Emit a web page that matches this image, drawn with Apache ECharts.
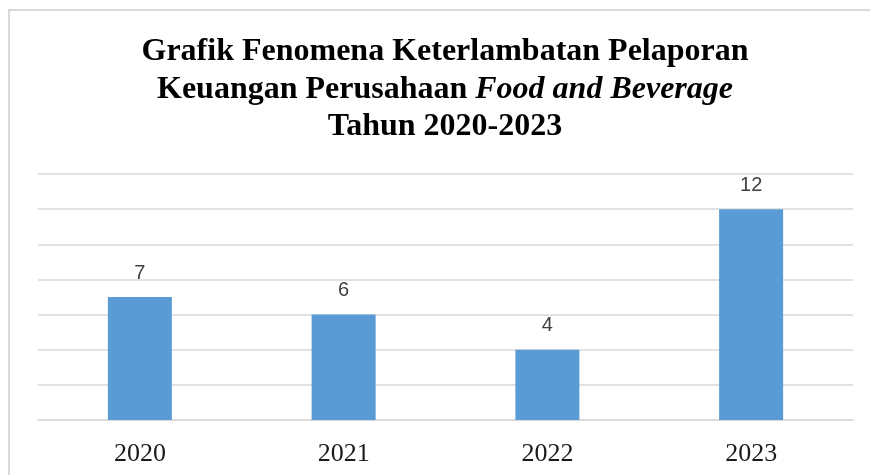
<!DOCTYPE html>
<html>
<head>
<meta charset="utf-8">
<script src="https://cdn.jsdelivr.net/npm/echarts@6/dist/echarts.min.js"></script>
<style>
  html, body { margin: 0; padding: 0; background: #fff; overflow: hidden; }
  #chart { width: 870px; height: 475px; }
</style>
</head>
<body>
<div id="chart"></div>
<script>
  // data
  const years = ['2020', '2021', '2022', '2023']
  const counts = [7, 6, 4, 12]

  let myChart = echarts.init(document.getElementById('chart'))

  let option = {
    backgroundColor: '#fff',
    title: {
      left: 445,
      top: 33,
      padding: 0,
      textAlign: 'center',
      text: 'Grafik Fenomena Keterlambatan Pelaporan\nKeuangan Perusahaan {i|Food and Beverage}\nTahun 2020-2023',
      textStyle: {
        fontFamily: 'Liberation Serif',
        fontWeight: 'bold',
        fontSize: 32,
        lineHeight: 37.5,
        color: '#000',
        rich: {
          i: {
            fontFamily: 'Liberation Serif',
            fontWeight: 'bold',
            fontStyle: 'italic',
            fontSize: 32,
            lineHeight: 37.5,
            color: '#000'
          }
        }
      }
    },
    // outer frame: only the top and left edges show in the picture
    graphic: [{
      type: 'polyline',
      z: -1,
      shape: { points: [[9, 480], [9, 10], [880, 10]] },
      style: { fill: 'none', stroke: '#d9d9d9', lineWidth: 2 }
    }],
    grid: {
      left: 38,
      right: 17,
      top: 174,
      bottom: 55
    },
    xAxis: {
      type: 'category',
      data: years,
      axisLine: { lineStyle: { color: '#d9d9d9', width: 1.5 } },
      axisTick: { show: false },
      axisLabel: {
        fontFamily: 'Liberation Serif',
        fontSize: 26,
        color: '#1a1a1a',
        margin: 21
      }
    },
    yAxis: {
      type: 'value',
      min: 0,
      max: 14,
      interval: 2,
      axisLabel: { show: false },
      axisLine: { show: false },
      axisTick: { show: false },
      splitLine: { lineStyle: { color: '#d9d9d9', width: 1.5 } }
    },
    series: [{
      type: 'bar',
      data: counts,
      barWidth: 64,
      itemStyle: { color: '#5b9bd5' },
      label: {
        show: true,
        position: 'top',
        distance: 14,
        fontFamily: 'Liberation Sans',
        fontSize: 20,
        color: '#404040'
      }
    }]
  }

  myChart.setOption(option)
</script>
</body>
</html>
